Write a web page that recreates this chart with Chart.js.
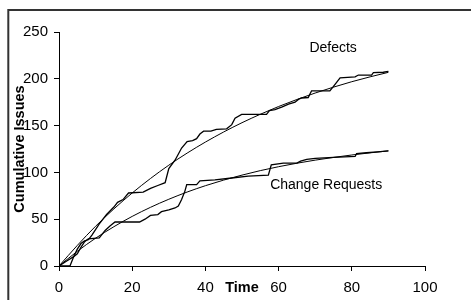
<!DOCTYPE html>
<html>
<head>
<meta charset="utf-8">
<script src="https://cdn.jsdelivr.net/npm/chart.js@4"></script>
<style>
  body { margin: 0; background: #fff; }
  #wrap { width: 471px; height: 300px; }
</style>
</head>
<body>
<div id="wrap"><canvas id="chart" width="471" height="300"></canvas></div>
<script>
// Observed cumulative counts (time, count)
const defectsTime  = [0, 3, 4, 5, 6, 7, 8, 9, 11, 13, 15, 16, 17.5, 19, 23, 25, 27, 29, 30, 31.7, 33.5, 35, 36.5, 37.6, 38.5, 39.5, 41.5, 43, 45.8, 47.2, 48.1, 49.9, 56.7, 57.5, 59, 61, 62.7, 64.5, 65.4, 66.3, 68.1, 68.6, 69, 74, 75, 76.8, 80.9, 81.8, 85.4, 85.9, 88.6, 90];
const defectsCount = [0, 0, 10, 18, 24, 27, 28, 33, 45, 55, 63, 68, 71, 78, 79, 83, 86, 89, 104, 113, 126, 133, 134, 136, 141, 144, 144, 146, 146.5, 151, 158, 162, 162, 166, 167, 170, 173, 175, 178, 179.5, 180, 184, 187, 187, 192, 201, 202, 204, 204, 206.5, 207, 208];

const requestsTime  = [0, 2, 4, 5, 6, 7, 8, 11, 12.6, 14, 15.3, 22, 23.5, 25, 27, 28, 30, 31.7, 32.6, 33.5, 34.4, 34.9, 37.6, 38.5, 42.6, 47.2, 51.7, 57.2, 58, 61.3, 65, 66, 67.7, 70, 75, 80.9, 81.3, 84, 87, 90];
const requestsCount = [0, 5, 10, 13, 20, 26, 29, 30, 38, 43, 47, 47, 50, 54, 55, 58, 60, 62, 64, 71, 80, 87, 87, 91, 92, 94, 96, 97, 108, 110, 110, 112, 114, 115, 116, 117, 120, 121, 122, 123];

// Fitted trend curves
const fitTime     = [0, 5, 10, 15, 20, 25, 30, 35, 40, 45, 50, 55, 60, 65, 70, 75, 80, 85, 90];
const defectsFit  = [0, 22, 42.5, 61, 78, 93.5, 107.7, 120.6, 132.4, 143.2, 153.1, 162.1, 170.4, 177.9, 184.8, 191.1, 196.9, 202.1, 206.9];
const requestsFit = [0, 15.7, 29.7, 42, 53, 62.7, 71.3, 79, 85.8, 91.8, 97.1, 101.9, 106.1, 109.8, 113.1, 116, 118.6, 120.9, 123];

const xTicks = [0, 20, 40, 60, 80, 100];
const yTicks = [0, 50, 100, 150, 200, 250];

const notes = [
  { text: 'Defects', x: 74.9, y: 233 },
  { text: 'Change Requests', x: 73, y: 86.7 }
];

const pts = (xs, ys) => xs.map((x, i) => ({ x: x, y: ys[i] }));

const FONT = '"Liberation Sans", Arial, sans-serif';
Chart.defaults.font.family = FONT;
Chart.defaults.color = '#000';

const line = (data, width, smooth) => ({
  data: data,
  borderColor: '#000',
  borderWidth: width,
  pointRadius: 0,
  fill: false,
  tension: smooth ? 0.4 : 0,
  cubicInterpolationMode: smooth ? 'monotone' : 'default'
});

const decorations = {
  id: 'decorations',
  beforeDraw(chart) {
    const ctx = chart.ctx;
    ctx.save();
    ctx.fillStyle = '#fff';
    ctx.fillRect(0, 0, chart.width, chart.height);
    ctx.strokeStyle = '#333';
    ctx.lineWidth = 2;
    ctx.strokeRect(8.3, 10, 520, 340);
    ctx.restore();
  },
  afterDatasetsDraw(chart) {
    const ctx = chart.ctx;
    const xs = chart.scales.x, ys = chart.scales.y;
    ctx.save();
    ctx.font = '14px ' + FONT;
    ctx.fillStyle = '#000';
    ctx.textAlign = 'center';
    ctx.textBaseline = 'middle';
    notes.forEach(n => ctx.fillText(n.text, xs.getPixelForValue(n.x), ys.getPixelForValue(n.y)));
    ctx.restore();
  }
};

new Chart(document.getElementById('chart'), {
  type: 'line',
  data: {
    datasets: [
      line(pts(defectsTime, defectsCount), 1.3, false),
      line(pts(requestsTime, requestsCount), 1.3, false),
      line(pts(fitTime, defectsFit), 1, true),
      line(pts(fitTime, requestsFit), 1, true)
    ]
  },
  options: {
    responsive: false,
    animation: false,
    layout: { padding: { left: 0, top: 32, right: 46, bottom: 0 } },
    plugins: { legend: { display: false }, tooltip: { enabled: false } },
    scales: {
      x: {
        type: 'linear',
        min: 0, max: 100,
        afterFit: s => { s.height = 34; },
        afterBuildTicks: s => { s.ticks = xTicks.map(v => ({ value: v })); },
        grid: { drawOnChartArea: false, color: '#000', tickLength: 5 },
        border: { color: '#000', width: 1 },
        ticks: { font: { size: 15 }, padding: 8, maxRotation: 0 },
        title: { display: true, text: 'Time', font: { size: 14.5, weight: 'bold' }, padding: { top: 0, bottom: 3.3 } }
      },
      y: {
        min: 0, max: 250,
        afterFit: s => { s.width = 59; },
        afterBuildTicks: s => { s.ticks = yTicks.map(v => ({ value: v })); },
        grid: { drawOnChartArea: false, color: '#000', tickLength: 5 },
        border: { color: '#000', width: 1 },
        ticks: { font: { size: 15 }, padding: 6 },
        title: { display: true, text: 'Cumulative Issues', font: { size: 14.5, weight: 'bold' }, padding: { top: 11.3, bottom: 0 } }
      }
    }
  },
  plugins: [decorations]
});
</script>
</body>
</html>
